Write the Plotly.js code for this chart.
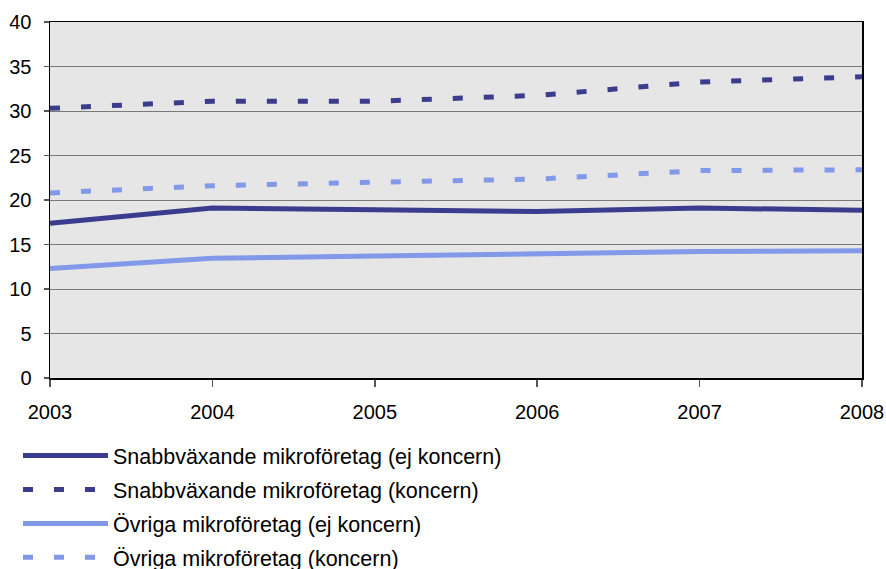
<!DOCTYPE html>
<html>
<head>
<meta charset="utf-8">
<script src="https://cdn.plot.ly/plotly-3.0.1.min.js"></script>
<style>html,body{margin:0;padding:0;background:#fff;}#chart{width:886px;height:569px;}</style>
</head>
<body>
<div id="chart"></div>
<script>
const years = [2003, 2004, 2005, 2006, 2007, 2008];
const snabbEjKoncern = [17.4, 19.1, 18.9, 18.7, 19.1, 18.85];
const snabbKoncern = [30.3, 31.1, 31.1, 31.75, 33.25, 33.85];
const ovrigaEjKoncern = [12.3, 13.45, 13.7, 14.0, 14.2, 14.3];
const ovrigaKoncern = [20.8, 21.6, 22.0, 22.35, 23.3, 23.4];
const seriesNames = [
  'Snabbväxande mikroföretag (ej koncern)',
  'Snabbväxande mikroföretag (koncern)',
  'Övriga mikroföretag (ej koncern)',
  'Övriga mikroföretag (koncern)'
];
const yTicks = [0, 5, 10, 15, 20, 25, 30, 35, 40];

const dark = '#3c3c8e';
const light = '#8298e8';
const dashPat = '10px,21px';

const traces = [
  {x: years, y: snabbEjKoncern, name: seriesNames[0], mode: 'lines', line: {color: dark, width: 5}, legendgroup: 'a'},
  {x: years, y: snabbKoncern, name: seriesNames[1], mode: 'lines', line: {color: dark, width: 5, dash: dashPat}, legendgroup: 'b'},
  {x: years, y: ovrigaEjKoncern, name: seriesNames[2], mode: 'lines', line: {color: light, width: 5}, legendgroup: 'c'},
  {x: years, y: ovrigaKoncern, name: seriesNames[3], mode: 'lines', line: {color: light, width: 5, dash: dashPat}, legendgroup: 'd'}
];

const fam = 'Liberation Sans, Arial, sans-serif';
const tickFont = {family: fam, size: 20, color: '#000'};

const layout = {
  width: 886, height: 569,
  margin: {l: 50, r: 24, t: 22, b: 191, pad: 0, autoexpand: false},
  paper_bgcolor: '#ffffff',
  plot_bgcolor: '#e6e6e6',
  font: tickFont,
  showlegend: true,
  legend: {
    orientation: 'v',
    xref: 'container', yref: 'container',
    x: 0.0203, y: 0.2355, xanchor: 'left', yanchor: 'top',
    font: {family: fam, size: 21.5, color: '#000'},
    itemwidth: 85,
    tracegroupgap: 3,
    bgcolor: 'rgba(0,0,0,0)',
    traceorder: 'grouped'
  },
  xaxis: {
    range: [2003, 2008],
    tickvals: years,
    ticktext: years.map(String),
    showgrid: false,
    zeroline: false,
    showline: true, linecolor: '#000', linewidth: 1.5,
    mirror: true,
    ticks: 'outside', ticklen: 7, tickcolor: '#555', tickwidth: 1.5,
    ticklabelstandoff: 8,
    tickfont: tickFont,
    fixedrange: true
  },
  yaxis: {
    range: [0, 40],
    tickvals: yTicks,
    showgrid: true, gridcolor: '#7a7a7a', gridwidth: 1,
    zeroline: false,
    showline: true, linecolor: '#000', linewidth: 1.5,
    mirror: true,
    ticks: 'outside', ticklen: 5, tickcolor: '#555', tickwidth: 1.5,
    ticklabelstandoff: 8,
    tickfont: tickFont,
    fixedrange: true
  }
};

Plotly.newPlot('chart', traces, layout, {displayModeBar: false, staticPlot: true});
</script>
</body>
</html>
